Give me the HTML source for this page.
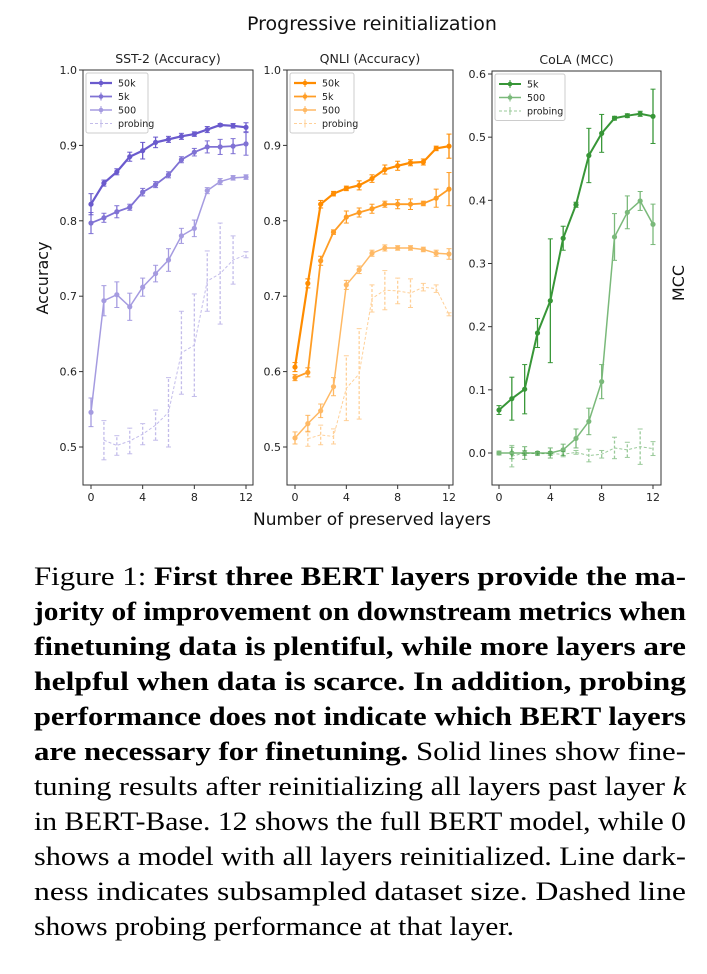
<!DOCTYPE html>
<html><head><meta charset="utf-8"><style>
body{margin:0;background:#fff;width:707px;height:974px;overflow:hidden}
svg{position:absolute;left:0;top:0}
</style></head><body>
<svg id="fig" width="707" height="974" font-family="'DejaVu Sans', 'Liberation Sans', sans-serif"></svg>
<script>
const layers=[0,1,2,3,4,5,6,7,8,9,10,11,12];
const probeLayers=[1,2,3,4,5,6,7,8,9,10,11,12];
const sst50k=[0.822,0.850,0.865,0.885,0.893,0.904,0.908,0.912,0.915,0.921,0.927,0.926,0.924];
const sst50kErr=[0.014,0.004,0.004,0.006,0.011,0.007,0.004,0.004,0.003,0.004,0.002,0.003,0.006];
const sst5k=[0.797,0.804,0.812,0.818,0.838,0.848,0.861,0.881,0.891,0.898,0.898,0.899,0.902];
const sst5kErr=[0.014,0.006,0.008,0.004,0.005,0.004,0.004,0.004,0.005,0.008,0.010,0.010,0.015];
const sst500=[0.546,0.694,0.702,0.686,0.712,0.730,0.748,0.780,0.790,0.840,0.852,0.857,0.858];
const sst500Err=[0.019,0.020,0.017,0.018,0.012,0.011,0.015,0.010,0.011,0.004,0.004,0.003,0.003];
const sstProbe=[0.509,0.502,0.508,0.517,0.529,0.546,0.625,0.635,0.720,0.730,0.748,0.755];
const sstProbeErr=[0.026,0.013,0.017,0.014,0.020,0.046,0.055,0.068,0.040,0.067,0.032,0.004];
const qn50k=[0.606,0.717,0.822,0.836,0.843,0.847,0.856,0.868,0.873,0.877,0.878,0.896,0.899];
const qn50kErr=[0.006,0.006,0.005,0.003,0.003,0.006,0.005,0.006,0.006,0.004,0.004,0.003,0.016];
const qn5k=[0.592,0.599,0.747,0.785,0.805,0.811,0.816,0.822,0.822,0.822,0.823,0.830,0.842];
const qn5kErr=[0.004,0.006,0.006,0.003,0.008,0.006,0.006,0.004,0.006,0.007,0.003,0.012,0.022];
const qn500=[0.512,0.531,0.548,0.580,0.715,0.735,0.757,0.764,0.764,0.764,0.762,0.757,0.756];
const qn500Err=[0.008,0.011,0.009,0.012,0.006,0.005,0.004,0.004,0.003,0.003,0.003,0.004,0.007];
const qnProbe=[0.511,0.516,0.514,0.578,0.597,0.697,0.708,0.707,0.704,0.712,0.710,0.676];
const qnProbeErr=[0.010,0.013,0.010,0.043,0.060,0.018,0.026,0.017,0.019,0.005,0.005,0.002];
const cola5k=[0.068,0.086,0.101,0.190,0.241,0.340,0.393,0.471,0.506,0.530,0.534,0.537,0.533];
const cola5kErr=[0.007,0.034,0.039,0.023,0.098,0.019,0.004,0.043,0.030,0.003,0.003,0.004,0.043];
const cola500=[0,0,0,0,0,0.005,0.023,0.050,0.113,0.342,0.381,0.399,0.362];
const cola500Err=[0.003,0.009,0.010,0.002,0.008,0.009,0.015,0.021,0.027,0.037,0.026,0.015,0.032];
const colaProbe=[-0.005,0.0,-0.001,-0.001,-0.002,0.001,-0.004,-0.002,0.008,0.005,0.010,0.007];
const colaProbeErr=[0.017,0.004,0.003,0.003,0.004,0.003,0.010,0.006,0.017,0.012,0.028,0.011];
const accTicks=[0.5,0.6,0.7,0.8,0.9,1.0];
const mccTicks=[0.0,0.1,0.2,0.3,0.4,0.5,0.6];
const xTicks=[0,4,8,12];

const NS='http://www.w3.org/2000/svg';
const svg=document.getElementById('fig');
function mk(tag,attrs,parent,text){const e=document.createElementNS(NS,tag);for(const k in attrs)e.setAttribute(k,attrs[k]);if(text!==undefined)e.textContent=text;(parent||svg).appendChild(e);return e;}

function panel(cfg){
  const g=mk('g',{});
  
  
  const xs=v=>cfg.x0+(v-0)*(cfg.x12-cfg.x0)/12;
  const ys=v=>cfg.yA+(v-cfg.vA)*(cfg.yB-cfg.yA)/(cfg.vB-cfg.vA);
  const fr=mk('rect',{x:cfg.L,y:cfg.T,width:cfg.R-cfg.L,height:cfg.B-cfg.T,fill:'none',stroke:'#333','stroke-width':1},g);
  
  
  const tt=mk('text',{x:(cfg.L+cfg.R)/2,y:cfg.T-7,'text-anchor':'middle','font-size':12.5,fill:'#222'},g,cfg.title);
  
  
  cfg.yt.forEach(v=>{const y=ys(v);
    mk('line',{x1:cfg.L-4,x2:cfg.L,y1:y,y2:y,stroke:'#333'},g);
    const t=mk('text',{x:cfg.L-6,y:y+4,'text-anchor':'end','font-size':11,fill:'#222'},g,v.toFixed(1));
    
    });
  xTicks.forEach(v=>{const x=xs(v);
    mk('line',{x1:x,x2:x,y1:cfg.B,y2:cfg.B+4,stroke:'#333'},g);
    const t=mk('text',{x:x,y:cfg.B+16,'text-anchor':'middle','font-size':11,fill:'#222'},g,String(v));
    
    });
  cfg.series.forEach(s=>{
    const sg=mk('g',{opacity:s.op},g);
    
    
    const dash=s.dash?'3,2':'none';
    const pts=s.xv.map((xv,i)=>xs(xv)+','+ys(s.v[i])).join(' ');
    mk('polyline',{points:pts,fill:'none',stroke:cfg.color,'stroke-width':s.w,'stroke-dasharray':dash},sg);
    s.xv.forEach((xv,i)=>{const x=xs(xv),y1=ys(s.v[i]-s.e[i]),y2=ys(s.v[i]+s.e[i]);
      mk('line',{x1:x,x2:x,y1:y1,y2:y2,stroke:cfg.color,'stroke-width':1.3,'stroke-dasharray':dash},sg);
      mk('line',{x1:x-2.5,x2:x+2.5,y1:y1,y2:y1,stroke:cfg.color,'stroke-width':1},sg);
      mk('line',{x1:x-2.5,x2:x+2.5,y1:y2,y2:y2,stroke:cfg.color,'stroke-width':1},sg);
      if(!s.dash){const c=mk('circle',{cx:x,cy:ys(s.v[i]),r:2.6,fill:cfg.color},sg);
        
        }
    });
  });
  // legend
  const lx=cfg.L+3,ly=cfg.T+3,lh=13.5;
  const lg=mk('g',{},g);
  
  
  mk('rect',{x:lx,y:ly,width:cfg.lw,height:cfg.series.length*lh+6,fill:'#fff',stroke:'#ccc',rx:2},lg);
  cfg.series.forEach((s,i)=>{const y=ly+10+i*lh;
    const e=mk('g',{opacity:s.op},lg);
    
    
    mk('line',{x1:lx+4,x2:lx+26,y1:y,y2:y,stroke:cfg.color,'stroke-width':s.w,'stroke-dasharray':s.dash?'3,2':'none'},e);
    mk('line',{x1:lx+15,x2:lx+15,y1:y-4,y2:y+4,stroke:cfg.color,'stroke-width':1},e);
    if(!s.dash)mk('circle',{cx:lx+15,cy:y,r:2.3,fill:cfg.color},e);
    mk('text',{x:lx+32,y:y+3.5,'font-size':9.5,fill:'#222'},lg,s.label);
  });
}
panel({name:'sst2-panel',title:'SST-2 (Accuracy)',L:83,R:253,T:70,B:485,x0:91,x12:246,vA:1.0,yA:70,vB:0.5,yB:447,yt:accTicks,color:'#6a5acd',lw:62,
 series:[{label:'50k',xv:layers,v:sst50k,e:sst50kErr,op:1,w:2.2},{label:'5k',xv:layers,v:sst5k,e:sst5kErr,op:0.85,w:1.8},{label:'500',xv:layers,v:sst500,e:sst500Err,op:0.6,w:1.5},{label:'probing',xv:probeLayers,v:sstProbe,e:sstProbeErr,op:0.4,w:1,dash:true}]});
panel({name:'qnli-panel',title:'QNLI (Accuracy)',L:287,R:453,T:70,B:485,x0:295,x12:449,vA:1.0,yA:70,vB:0.5,yB:447,yt:accTicks,color:'#ff8c00',lw:64,
 series:[{label:'50k',xv:layers,v:qn50k,e:qn50kErr,op:1,w:2.2},{label:'5k',xv:layers,v:qn5k,e:qn5kErr,op:0.85,w:1.8},{label:'500',xv:layers,v:qn500,e:qn500Err,op:0.6,w:1.5},{label:'probing',xv:probeLayers,v:qnProbe,e:qnProbeErr,op:0.4,w:1,dash:true}]});
panel({name:'cola-panel',title:'CoLA (MCC)',L:492,R:661,T:71,B:485,x0:499,x12:653,vA:0.6,yA:74,vB:0.0,yB:453,yt:mccTicks,color:'#228b22',lw:70,
 series:[{label:'5k',xv:layers,v:cola5k,e:cola5kErr,op:0.9,w:2},{label:'500',xv:layers,v:cola500,e:cola500Err,op:0.6,w:1.5},{label:'probing',xv:probeLayers,v:colaProbe,e:colaProbeErr,op:0.45,w:1,dash:true}]});
</script>
<svg width="707" height="974" style="position:absolute;left:0;top:0" font-family="'DejaVu Sans', 'Liberation Sans', sans-serif">
<text x="372" y="30" text-anchor="middle" font-size="19" fill="#111">Progressive reinitialization</text>
<text x="372" y="525" text-anchor="middle" font-size="17" fill="#111">Number of preserved layers</text>
<text transform="translate(48,278) rotate(-90)" text-anchor="middle" font-size="16" fill="#111">Accuracy</text>
<text transform="translate(684,283) rotate(-90)" text-anchor="middle" font-size="16" fill="#111">MCC</text>
</svg>
<svg width="707" height="974" style="position:absolute;left:0;top:0" font-family="'Liberation Serif', serif" font-size="26" fill="#000">
<text x="34" y="585" textLength="652" lengthAdjust="spacingAndGlyphs">Figure 1: <tspan font-weight="bold">First three BERT layers provide the ma-</tspan></text>
<text x="34" y="620" textLength="652" lengthAdjust="spacingAndGlyphs" font-weight="bold">jority of improvement on downstream metrics when</text>
<text x="34" y="655" textLength="652" lengthAdjust="spacingAndGlyphs" font-weight="bold">finetuning data is plentiful, while more layers are</text>
<text x="34" y="690" textLength="652" lengthAdjust="spacingAndGlyphs" font-weight="bold">helpful when data is scarce.  In addition, probing</text>
<text x="34" y="725" textLength="652" lengthAdjust="spacingAndGlyphs" font-weight="bold">performance does not indicate which BERT layers</text>
<text x="34" y="760" textLength="652" lengthAdjust="spacingAndGlyphs"><tspan font-weight="bold">are necessary for finetuning.</tspan> Solid lines show fine-</text>
<text x="34" y="795" textLength="652" lengthAdjust="spacingAndGlyphs">tuning results after reinitializing all layers past layer <tspan font-style="italic">k</tspan></text>
<text x="34" y="830" textLength="652" lengthAdjust="spacingAndGlyphs">in BERT-Base. 12 shows the full BERT model, while 0</text>
<text x="34" y="865" textLength="652" lengthAdjust="spacingAndGlyphs">shows a model with all layers reinitialized. Line dark-</text>
<text x="34" y="900" textLength="652" lengthAdjust="spacingAndGlyphs">ness indicates subsampled dataset size. Dashed line</text>
<text x="34" y="935" textLength="480" lengthAdjust="spacingAndGlyphs">shows probing performance at that layer.</text>
</svg>
</body></html>
